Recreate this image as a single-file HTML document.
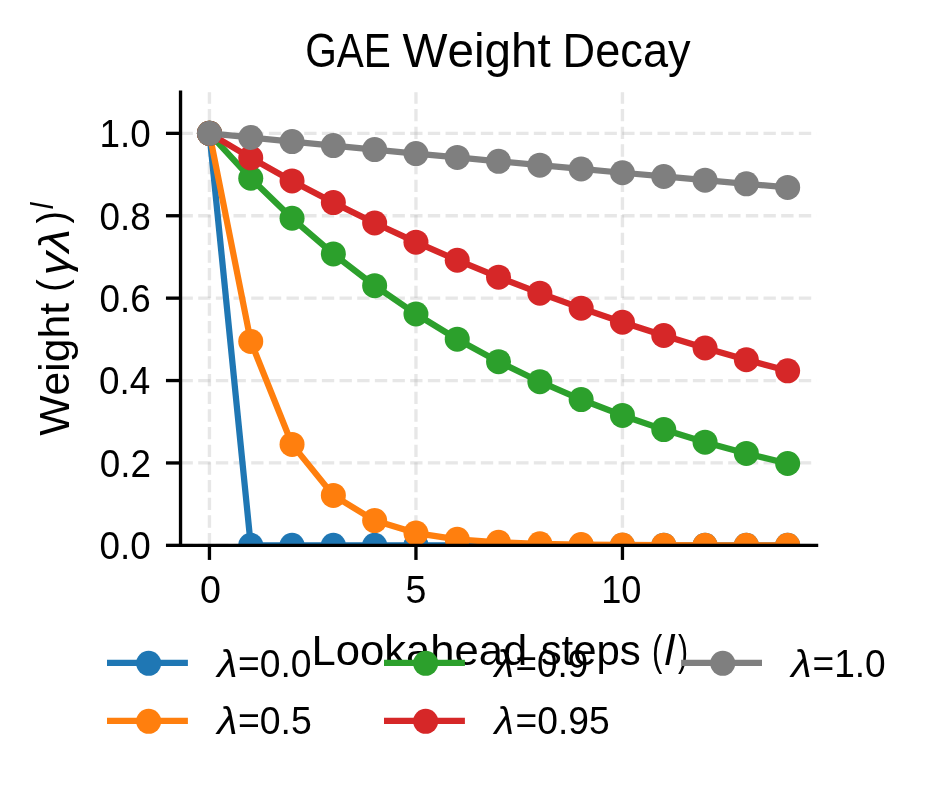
<!DOCTYPE html>
<html><head><meta charset="utf-8"><style>
html,body{margin:0;padding:0;background:#fff;overflow:hidden;}
svg{display:block;will-change:transform;}
text{font-family:"Liberation Sans",sans-serif;font-kerning:none;}
</style></head><body>
<svg width="931" height="788" viewBox="0 0 931 788">
<rect width="931" height="788" fill="#fff"/>
<g stroke="#b0b0b0" stroke-opacity="0.3" stroke-width="3.333" stroke-dasharray="12.333 5.333" fill="none">
<path d="M209.45 545.35 L209.45 92.15"/>
<path d="M415.95 545.35 L415.95 92.15"/>
<path d="M622.45 545.35 L622.45 92.15"/>
<path d="M180.54 545.35 L816.56 545.35"/>
<path d="M180.54 462.95 L816.56 462.95"/>
<path d="M180.54 380.55 L816.56 380.55"/>
<path d="M180.54 298.15 L816.56 298.15"/>
<path d="M180.54 215.75 L816.56 215.75"/>
<path d="M180.54 133.35 L816.56 133.35"/>
</g>
<clipPath id="ax"><rect x="180.54" y="92.15" width="636.02" height="453.20"/></clipPath>
<g clip-path="url(#ax)">
<path d="M209.45 133.35 L250.75 545.35 L292.05 545.35 L333.35 545.35 L374.65 545.35 L415.95 545.35 L457.25 545.35 L498.55 545.35 L539.85 545.35 L581.15 545.35 L622.45 545.35 L663.75 545.35 L705.05 545.35 L746.35 545.35 L787.65 545.35" stroke="#1f77b4" stroke-width="6.25" fill="none" stroke-linejoin="round"/>
<circle cx="209.45" cy="133.35" r="12.5" fill="#1f77b4"/>
<circle cx="250.75" cy="545.35" r="12.5" fill="#1f77b4"/>
<circle cx="292.05" cy="545.35" r="12.5" fill="#1f77b4"/>
<circle cx="333.35" cy="545.35" r="12.5" fill="#1f77b4"/>
<circle cx="374.65" cy="545.35" r="12.5" fill="#1f77b4"/>
<circle cx="415.95" cy="545.35" r="12.5" fill="#1f77b4"/>
<circle cx="457.25" cy="545.35" r="12.5" fill="#1f77b4"/>
<circle cx="498.55" cy="545.35" r="12.5" fill="#1f77b4"/>
<circle cx="539.85" cy="545.35" r="12.5" fill="#1f77b4"/>
<circle cx="581.15" cy="545.35" r="12.5" fill="#1f77b4"/>
<circle cx="622.45" cy="545.35" r="12.5" fill="#1f77b4"/>
<circle cx="663.75" cy="545.35" r="12.5" fill="#1f77b4"/>
<circle cx="705.05" cy="545.35" r="12.5" fill="#1f77b4"/>
<circle cx="746.35" cy="545.35" r="12.5" fill="#1f77b4"/>
<circle cx="787.65" cy="545.35" r="12.5" fill="#1f77b4"/>
<path d="M209.45 133.35 L250.75 341.41 L292.05 444.40 L333.35 495.38 L374.65 520.61 L415.95 533.11 L457.25 539.29 L498.55 542.35 L539.85 543.86 L581.15 544.61 L622.45 544.99 L663.75 545.17 L705.05 545.26 L746.35 545.31 L787.65 545.33" stroke="#ff7f0e" stroke-width="6.25" fill="none" stroke-linejoin="round"/>
<circle cx="209.45" cy="133.35" r="12.5" fill="#ff7f0e"/>
<circle cx="250.75" cy="341.41" r="12.5" fill="#ff7f0e"/>
<circle cx="292.05" cy="444.40" r="12.5" fill="#ff7f0e"/>
<circle cx="333.35" cy="495.38" r="12.5" fill="#ff7f0e"/>
<circle cx="374.65" cy="520.61" r="12.5" fill="#ff7f0e"/>
<circle cx="415.95" cy="533.11" r="12.5" fill="#ff7f0e"/>
<circle cx="457.25" cy="539.29" r="12.5" fill="#ff7f0e"/>
<circle cx="498.55" cy="542.35" r="12.5" fill="#ff7f0e"/>
<circle cx="539.85" cy="543.86" r="12.5" fill="#ff7f0e"/>
<circle cx="581.15" cy="544.61" r="12.5" fill="#ff7f0e"/>
<circle cx="622.45" cy="544.99" r="12.5" fill="#ff7f0e"/>
<circle cx="663.75" cy="545.17" r="12.5" fill="#ff7f0e"/>
<circle cx="705.05" cy="545.26" r="12.5" fill="#ff7f0e"/>
<circle cx="746.35" cy="545.31" r="12.5" fill="#ff7f0e"/>
<circle cx="787.65" cy="545.33" r="12.5" fill="#ff7f0e"/>
<path d="M209.45 133.35 L250.75 178.26 L292.05 218.27 L333.35 253.92 L374.65 285.69 L415.95 313.99 L457.25 339.21 L498.55 361.68 L539.85 381.70 L581.15 399.54 L622.45 415.43 L663.75 429.59 L705.05 442.21 L746.35 453.45 L787.65 463.47" stroke="#2ca02c" stroke-width="6.25" fill="none" stroke-linejoin="round"/>
<circle cx="209.45" cy="133.35" r="12.5" fill="#2ca02c"/>
<circle cx="250.75" cy="178.26" r="12.5" fill="#2ca02c"/>
<circle cx="292.05" cy="218.27" r="12.5" fill="#2ca02c"/>
<circle cx="333.35" cy="253.92" r="12.5" fill="#2ca02c"/>
<circle cx="374.65" cy="285.69" r="12.5" fill="#2ca02c"/>
<circle cx="415.95" cy="313.99" r="12.5" fill="#2ca02c"/>
<circle cx="457.25" cy="339.21" r="12.5" fill="#2ca02c"/>
<circle cx="498.55" cy="361.68" r="12.5" fill="#2ca02c"/>
<circle cx="539.85" cy="381.70" r="12.5" fill="#2ca02c"/>
<circle cx="581.15" cy="399.54" r="12.5" fill="#2ca02c"/>
<circle cx="622.45" cy="415.43" r="12.5" fill="#2ca02c"/>
<circle cx="663.75" cy="429.59" r="12.5" fill="#2ca02c"/>
<circle cx="705.05" cy="442.21" r="12.5" fill="#2ca02c"/>
<circle cx="746.35" cy="453.45" r="12.5" fill="#2ca02c"/>
<circle cx="787.65" cy="463.47" r="12.5" fill="#2ca02c"/>
<path d="M209.45 133.35 L250.75 157.86 L292.05 180.92 L333.35 202.60 L374.65 223.00 L415.95 242.18 L457.25 260.22 L498.55 277.18 L539.85 293.14 L581.15 308.14 L622.45 322.26 L663.75 335.53 L705.05 348.02 L746.35 359.76 L787.65 370.80" stroke="#d62728" stroke-width="6.25" fill="none" stroke-linejoin="round"/>
<circle cx="209.45" cy="133.35" r="12.5" fill="#d62728"/>
<circle cx="250.75" cy="157.86" r="12.5" fill="#d62728"/>
<circle cx="292.05" cy="180.92" r="12.5" fill="#d62728"/>
<circle cx="333.35" cy="202.60" r="12.5" fill="#d62728"/>
<circle cx="374.65" cy="223.00" r="12.5" fill="#d62728"/>
<circle cx="415.95" cy="242.18" r="12.5" fill="#d62728"/>
<circle cx="457.25" cy="260.22" r="12.5" fill="#d62728"/>
<circle cx="498.55" cy="277.18" r="12.5" fill="#d62728"/>
<circle cx="539.85" cy="293.14" r="12.5" fill="#d62728"/>
<circle cx="581.15" cy="308.14" r="12.5" fill="#d62728"/>
<circle cx="622.45" cy="322.26" r="12.5" fill="#d62728"/>
<circle cx="663.75" cy="335.53" r="12.5" fill="#d62728"/>
<circle cx="705.05" cy="348.02" r="12.5" fill="#d62728"/>
<circle cx="746.35" cy="359.76" r="12.5" fill="#d62728"/>
<circle cx="787.65" cy="370.80" r="12.5" fill="#d62728"/>
<path d="M209.45 133.35 L250.75 137.47 L292.05 141.55 L333.35 145.59 L374.65 149.58 L415.95 153.54 L457.25 157.46 L498.55 161.34 L539.85 165.18 L581.15 168.98 L622.45 172.74 L663.75 176.47 L705.05 180.16 L746.35 183.81 L787.65 187.43" stroke="#7f7f7f" stroke-width="6.25" fill="none" stroke-linejoin="round"/>
<circle cx="209.45" cy="133.35" r="12.5" fill="#7f7f7f"/>
<circle cx="250.75" cy="137.47" r="12.5" fill="#7f7f7f"/>
<circle cx="292.05" cy="141.55" r="12.5" fill="#7f7f7f"/>
<circle cx="333.35" cy="145.59" r="12.5" fill="#7f7f7f"/>
<circle cx="374.65" cy="149.58" r="12.5" fill="#7f7f7f"/>
<circle cx="415.95" cy="153.54" r="12.5" fill="#7f7f7f"/>
<circle cx="457.25" cy="157.46" r="12.5" fill="#7f7f7f"/>
<circle cx="498.55" cy="161.34" r="12.5" fill="#7f7f7f"/>
<circle cx="539.85" cy="165.18" r="12.5" fill="#7f7f7f"/>
<circle cx="581.15" cy="168.98" r="12.5" fill="#7f7f7f"/>
<circle cx="622.45" cy="172.74" r="12.5" fill="#7f7f7f"/>
<circle cx="663.75" cy="176.47" r="12.5" fill="#7f7f7f"/>
<circle cx="705.05" cy="180.16" r="12.5" fill="#7f7f7f"/>
<circle cx="746.35" cy="183.81" r="12.5" fill="#7f7f7f"/>
<circle cx="787.65" cy="187.43" r="12.5" fill="#7f7f7f"/>
</g>
<path d="M180.54 92.15 L180.54 545.35" stroke="#000" stroke-width="3.333" stroke-linecap="square"/>
<path d="M180.54 545.35 L816.56 545.35" stroke="#000" stroke-width="3.333" stroke-linecap="square"/>
<path d="M209.45 545.35 L209.45 559.93" stroke="#000" stroke-width="3.333"/>
<path d="M415.95 545.35 L415.95 559.93" stroke="#000" stroke-width="3.333"/>
<path d="M622.45 545.35 L622.45 559.93" stroke="#000" stroke-width="3.333"/>
<path d="M180.54 545.35 L165.96 545.35" stroke="#000" stroke-width="3.333"/>
<path d="M180.54 462.95 L165.96 462.95" stroke="#000" stroke-width="3.333"/>
<path d="M180.54 380.55 L165.96 380.55" stroke="#000" stroke-width="3.333"/>
<path d="M180.54 298.15 L165.96 298.15" stroke="#000" stroke-width="3.333"/>
<path d="M180.54 215.75 L165.96 215.75" stroke="#000" stroke-width="3.333"/>
<path d="M180.54 133.35 L165.96 133.35" stroke="#000" stroke-width="3.333"/>
<g fill="#000">
<text transform="translate(199.93 603.20) scale(0.9909 1)" font-size="38">0</text>
<text transform="translate(405.40 603.20) scale(0.9880 1)" font-size="38">5</text>
<text transform="translate(601.14 603.20) scale(0.9528 1)" font-size="38">10</text>
<text transform="translate(99.40 559.25) scale(0.9700 1)" font-size="38">0.0</text>
<text transform="translate(99.81 476.85) scale(0.9700 1)" font-size="38">0.2</text>
<text transform="translate(99.04 394.45) scale(0.9700 1)" font-size="38">0.4</text>
<text transform="translate(99.58 312.05) scale(0.9700 1)" font-size="38">0.6</text>
<text transform="translate(99.56 229.65) scale(0.9700 1)" font-size="38">0.8</text>
<text transform="translate(99.40 147.25) scale(0.9700 1)" font-size="38">1.0</text>
<text transform="translate(305.26 66.60) scale(0.8280 1)" font-size="49">GAE</text>
<text transform="translate(402.49 66.60) scale(0.9728 1)" font-size="49">Weight</text>
<text transform="translate(562.60 66.60) scale(0.9215 1)" font-size="49">Decay</text>
<text transform="translate(311.42 665.40) scale(1.0140 1)" font-size="43">Lookahead</text>
<text transform="translate(540.63 665.40) scale(0.9748 1)" font-size="43">steps</text>
<text transform="translate(651.98 665.40) scale(0.7192 1)" font-size="43">(</text>
<text transform="translate(664.39 665.40) scale(1.0279 1)" font-size="43" font-style="italic">l</text>
<text transform="translate(677.92 665.40) scale(0.7017 1)" font-size="43">)</text>
<text transform="translate(68.60 435.69) rotate(-90) scale(0.9931 1)" font-size="43">Weight</text>
<text transform="translate(65.60 291.72) rotate(-90) scale(0.9152 1)" font-size="40.8">(</text>
<text transform="translate(68.60 275.22) rotate(-90) scale(1.0799 1)" font-size="43" font-style="italic">γ</text>
<text transform="translate(68.60 252.25) rotate(-90) scale(1.0995 1)" font-size="43" font-style="italic">λ</text>
<text transform="translate(65.60 223.42) rotate(-90) scale(0.9152 1)" font-size="40.8">)</text>
<text transform="translate(52.70 209.18) rotate(-90) scale(0.9756 1)" font-size="30.5" font-style="italic">l</text>
<text transform="translate(217.18 676.70) scale(1.0866 1)" font-size="38" font-style="italic">λ</text>
<text transform="translate(237.98 676.70) scale(0.9808 1)" font-size="38">=0.0</text>
<text transform="translate(217.18 733.80) scale(1.0866 1)" font-size="38" font-style="italic">λ</text>
<text transform="translate(237.97 733.80) scale(0.9837 1)" font-size="38">=0.5</text>
<text transform="translate(494.60 676.70) scale(1.0431 1)" font-size="38" font-style="italic">λ</text>
<text transform="translate(515.50 676.70) scale(0.9683 1)" font-size="38">=0.9</text>
<text transform="translate(494.60 733.80) scale(1.0431 1)" font-size="38" font-style="italic">λ</text>
<text transform="translate(515.48 733.80) scale(0.9795 1)" font-size="38">=0.95</text>
<text transform="translate(791.28 676.70) scale(1.0920 1)" font-size="38" font-style="italic">λ</text>
<text transform="translate(812.49 676.70) scale(0.9766 1)" font-size="38">=1.0</text>
</g>
<path d="M107.00 662.95 L187.90 662.95" stroke="#1f77b4" stroke-width="6.25"/>
<circle cx="148.65" cy="663.35" r="12.5" fill="#1f77b4"/>
<path d="M107.00 720.95 L187.90 720.95" stroke="#ff7f0e" stroke-width="6.25"/>
<circle cx="148.65" cy="721.35" r="12.5" fill="#ff7f0e"/>
<path d="M384.00 662.95 L464.90 662.95" stroke="#2ca02c" stroke-width="6.25"/>
<circle cx="425.65" cy="663.35" r="12.5" fill="#2ca02c"/>
<path d="M384.00 720.95 L464.90 720.95" stroke="#d62728" stroke-width="6.25"/>
<circle cx="425.65" cy="721.35" r="12.5" fill="#d62728"/>
<path d="M681.10 662.95 L762.00 662.95" stroke="#7f7f7f" stroke-width="6.25"/>
<circle cx="722.75" cy="663.35" r="12.5" fill="#7f7f7f"/>
</svg>
</body></html>
